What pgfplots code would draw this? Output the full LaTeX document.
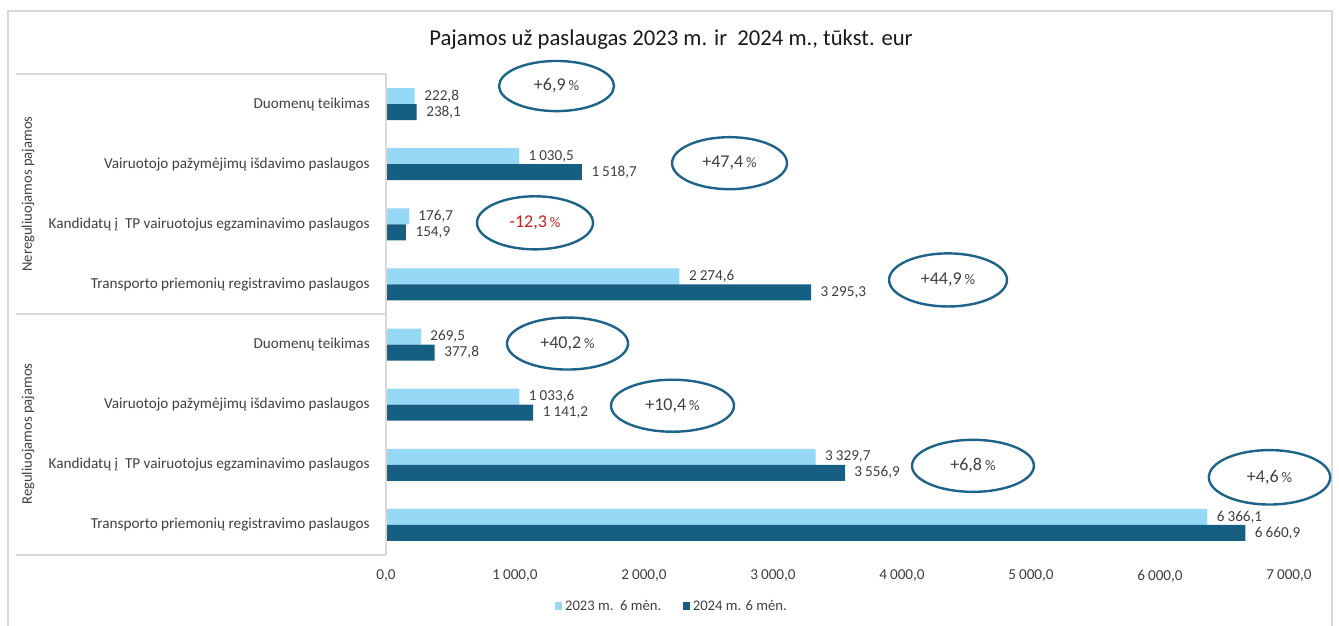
\documentclass[border=0pt]{standalone}
\usepackage{fontspec}
\setmainfont{Carlito}
\usepackage{pgfplots}
\pgfplotsset{compat=1.18}
\definecolor{light}{HTML}{96D9F7}
\definecolor{dark}{HTML}{175F82}
\definecolor{ell}{HTML}{1F6389}
\definecolor{boxg}{HTML}{D9D9D9}
\definecolor{txt}{HTML}{404040}
\definecolor{neg}{HTML}{C81E1E}
\pgfkeys{/pgf/number format/.cd, fixed, fixed zerofill, precision=1, use comma, 1000 sep={\hspace{0.2em}}, assume math mode=true}
\newcommand{\pct}[1]{#1\,{\fontsize{11}{12}\selectfont\%}}
\newcommand{\lf}{\fontsize{11.4}{13}\selectfont}
\begin{document}
\begin{tikzpicture}
\begin{scope}[x=0.75pt,y=0.75pt]
\useasboundingbox (0,0) rectangle (1339,625);
\draw[boxg, line width=1.1pt] (8,-5) -- (8,614) -- (1332,614) -- (1332,-5);
\node[font=\fontsize{17}{20}\selectfont, text=black!90] at (671,585) {Pajamos už paslaugas 2023 m. ir\ \ 2024 m., tūkst. eur};
\end{scope}
\begin{axis}[
  at={(289.5pt,52.5pt)}, anchor=south west, scale only axis, clip=false,
  width=677.25pt, height=360.75pt,
  xmin=0, xmax=7000, ymin=-0.5, ymax=7.5,
  xbar, bar width=0.267,
  axis line style={draw=none}, major tick length=0pt,
  xtick={0,1000,...,7000}, ytick={0,...,7},
  yticklabels={Transporto priemonių registravimo paslaugos,
    Kandidatų į\ \ TP vairuotojus egzaminavimo paslaugos,
    Vairuotojo pažymėjimų išdavimo paslaugos,
    Duomenų teikimas,
    Transporto priemonių registravimo paslaugos,
    Kandidatų į\ \ TP vairuotojus egzaminavimo paslaugos,
    Vairuotojo pažymėjimų išdavimo paslaugos,
    Duomenų teikimas},
  yticklabel style={anchor=east, inner sep=0pt, xshift=-12pt, font=\lf, text=txt},
  xticklabel style={anchor=north, inner sep=0pt, yshift=-11pt, font=\lf, text=txt},
  nodes near coords,
  every node near coord/.append style={font=\lf, text=txt, anchor=west, inner sep=0pt, xshift=7pt},
  legend style={at={(0.317,-0.106)}, anchor=center, draw=none, fill=none, legend columns=2,
    font=\fontsize{11}{12}\selectfont, text=txt,
    /tikz/every even column/.append style={column sep=14pt}},
  legend image code/.code={\fill[#1] (0pt,-2.8pt) rectangle (5.6pt,2.8pt);},
]
\addplot[fill=light, draw=none, bar shift=0.1335] coordinates {
 (6366.1,0) (3329.7,1) (1033.6,2) (269.5,3) (2274.6,4) (176.7,5) (1030.5,6) (222.8,7)};
\addlegendentry{2023 m.\ \ 6 mėn.}
\addplot[fill=dark, draw=none, bar shift=-0.1335] coordinates {
 (6660.9,0) (3556.9,1) (1141.2,2) (377.8,3) (3295.3,4) (154.9,5) (1518.7,6) (238.1,7)};
\addlegendentry{2024 m. 6 mėn.}
\begin{scope}[ell, line width=1.8pt]
\draw (axis cs:1322,7.3) ellipse [x radius=43.1pt, y radius=18.8pt];
\draw (axis cs:2663,6.017) ellipse [x radius=43.1pt, y radius=19.5pt];
\draw (axis cs:1155,5.025) ellipse [x radius=43.5pt, y radius=19.9pt];
\draw (axis cs:4357,4.075) ellipse [x radius=44.2pt, y radius=19.9pt];
\draw (axis cs:1407,3.017) ellipse [x radius=45.4pt, y radius=19.5pt];
\draw (axis cs:2221,1.983) ellipse [x radius=46.1pt, y radius=19.5pt];
\draw (axis cs:4550,0.983) ellipse [x radius=45.7pt, y radius=19.5pt];
\draw (axis cs:6849,0.792) ellipse [x radius=45.5pt, y radius=20.4pt];
\end{scope}
\begin{scope}[every node/.style={font=\fontsize{13.5}{15}\selectfont, text=txt}]
\node at (axis cs:1322,7.3) {\pct{+6,9}};
\node at (axis cs:2663,6.017) {\pct{+47,4}};
\node[text=neg] at (axis cs:1155,5.025) {\pct{-12,3}};
\node at (axis cs:4357,4.075) {\pct{+44,9}};
\node at (axis cs:1407,3.017) {\pct{+40,2}};
\node at (axis cs:2221,1.983) {\pct{+10,4}};
\node at (axis cs:4550,0.983) {\pct{+6,8}};
\node at (axis cs:6849,0.792) {\pct{+4,6}};
\end{scope}
\end{axis}
\begin{scope}[x=0.75pt,y=0.75pt]
\draw[boxg, line width=0.9pt] (16,551) -- (386,551) (16,311) -- (386,311) (16,70) -- (386,70) (386,551) -- (386,70);
\node[rotate=90, font=\fontsize{11}{12}\selectfont, text=txt] at (28,431) {Nereguliuojamos pajamos};
\node[rotate=90, font=\fontsize{11}{12}\selectfont, text=txt] at (28,191) {Reguliuojamos pajamos};
\end{scope}
\end{tikzpicture}
\end{document}
